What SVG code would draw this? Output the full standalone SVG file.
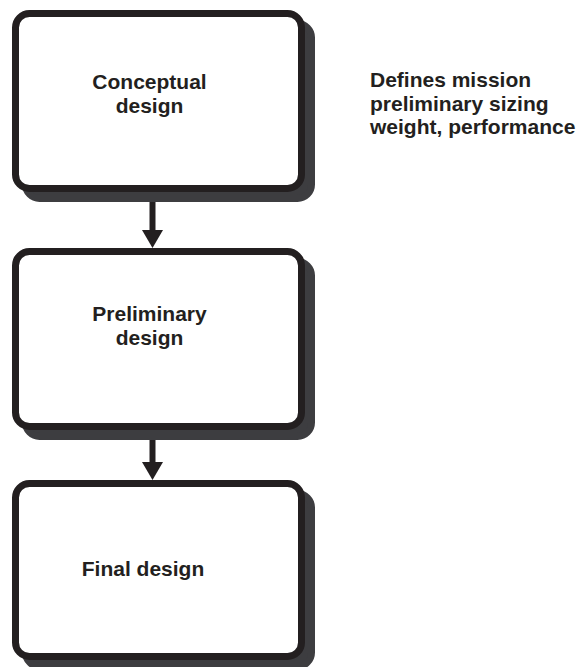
<svg xmlns="http://www.w3.org/2000/svg" width="580" height="667" viewBox="0 0 580 667">
<defs>
<style>
.shadow{fill:#3d3d40;stroke:#3d3d40;stroke-width:7}
.box{fill:#ffffff;stroke:#231f20;stroke-width:7}
.lbl{font-family:"Liberation Sans",Arial,Helvetica,sans-serif;font-weight:bold;font-size:21px;fill:#231f20}
.conn{stroke:#231f20;stroke-width:6;fill:none}
</style>
<marker id="ah" markerUnits="userSpaceOnUse" markerWidth="18" markerHeight="22" refX="0" refY="10.5" orient="auto" viewBox="0 0 18 21">
<path d="M0,0 L18,10.5 L0,21 z" fill="#231f20"/>
</marker>
</defs>
<rect width="580" height="667" fill="#ffffff"/>
<g id="connectors">
<path class="conn" d="M152.5,190 L152.5,230" marker-end="url(#ah)"/>
<path class="conn" d="M152.5,428 L152.5,462" marker-end="url(#ah)"/>
</g>
<g id="conceptual">
<rect class="shadow" x="25.5" y="23.5" width="286" height="175" rx="14"/>
<rect class="box" x="15.5" y="13.5" width="286" height="175" rx="14"/>
<text class="lbl" text-anchor="middle" x="149.5" y="89">Conceptual</text>
<text class="lbl" text-anchor="middle" x="149.5" y="113">design</text>
</g>
<g id="preliminary">
<rect class="shadow" x="25.5" y="261.5" width="286" height="175" rx="14"/>
<rect class="box" x="15.5" y="251.5" width="286" height="175" rx="14"/>
<text class="lbl" text-anchor="middle" x="149.5" y="321">Preliminary</text>
<text class="lbl" text-anchor="middle" x="149.5" y="345">design</text>
</g>
<g id="final">
<rect class="shadow" x="25.5" y="493.5" width="286" height="173" rx="14"/>
<rect class="box" x="15.5" y="483.5" width="286" height="173" rx="14"/>
<text class="lbl" text-anchor="middle" x="143" y="576">Final design</text>
</g>
<g id="note">
<text class="lbl" x="370" y="87">Defines mission</text>
<text class="lbl" x="370" y="110.5">preliminary sizing</text>
<text class="lbl" x="370" y="134">weight, performance</text>
</g>
</svg>
